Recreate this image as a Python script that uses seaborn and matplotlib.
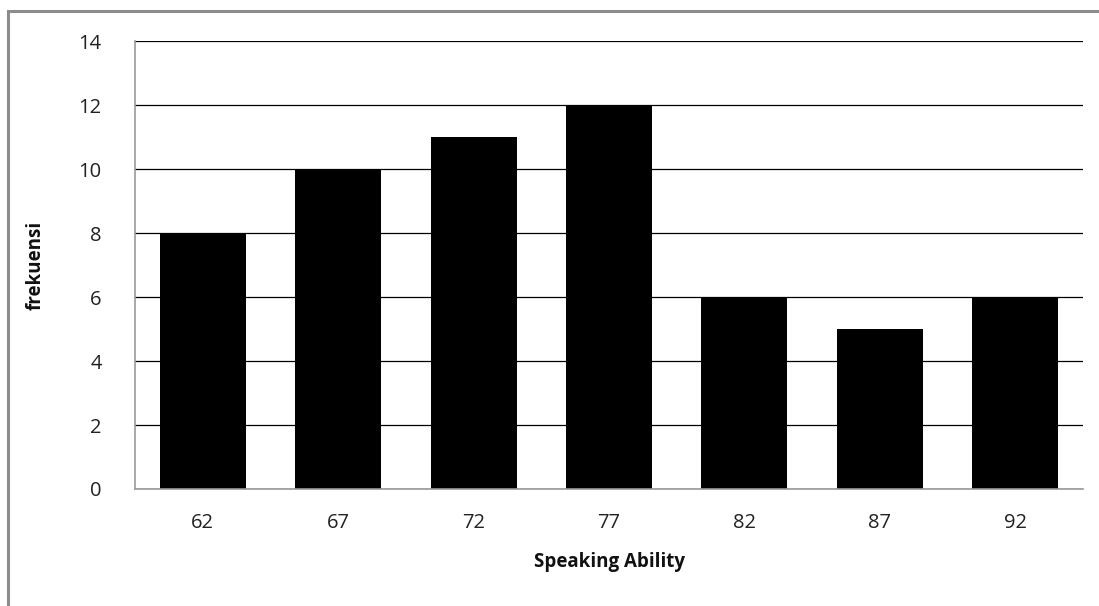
import matplotlib
matplotlib.use("Agg")
import matplotlib.pyplot as plt
import seaborn as sns
import pandas as pd
from matplotlib.patches import Rectangle

scores = ["62", "67", "72", "77", "82", "87", "92"]
frequencies = [8, 10, 11, 12, 6, 5, 6]
y_ticks = [0, 2, 4, 6, 8, 10, 12, 14]

df = pd.DataFrame({"score": scores, "freq": frequencies})

sns.set_theme(style="white")
plt.rcParams["font.family"] = ["Open Sans", "DejaVu Sans"]

fig = plt.figure(figsize=(10.99, 6.06), dpi=100)
ax = fig.add_axes([135 / 1099, 1 - 489 / 606, (1083 - 135) / 1099, (489 - 41) / 606])

sns.barplot(data=df, x="score", y="freq", color="black", width=0.635,
            saturation=1, edgecolor="black", linewidth=0, ax=ax, zorder=3)

ax.set_ylim(0, 14)
ax.set_xlim(-0.5, len(scores) - 0.5)
ax.set_yticks(y_ticks)
ax.yaxis.grid(True, color="black", linewidth=0.9, zorder=0)
ax.xaxis.grid(False)
ax.set_axisbelow(True)

for side in ["top", "right"]:
    ax.spines[side].set_visible(False)
for side in ["left", "bottom"]:
    ax.spines[side].set_color("#999999")
    ax.spines[side].set_linewidth(1.2)
    ax.spines[side].set_zorder(4)

ax.tick_params(axis="both", length=0, labelsize=14.5, colors="#222222")
ax.tick_params(axis="y", pad=24)
ax.tick_params(axis="x", pad=17)

ax.set_xlabel("Speaking Ability", fontsize=13.5, fontweight="bold", labelpad=14,
              color="#111111")
ax.set_ylabel("frekuensi", fontsize=13.5, fontweight="bold", labelpad=24,
              color="#111111")

# outer chart frame
fig.patches.append(Rectangle((8 / 1099, -0.1), 1.2, 1 - 11 / 606 + 0.1,
                             transform=fig.transFigure, fill=False,
                             edgecolor="#8c8c8c", linewidth=2.2))

fig.savefig("out.png", dpi=100)
